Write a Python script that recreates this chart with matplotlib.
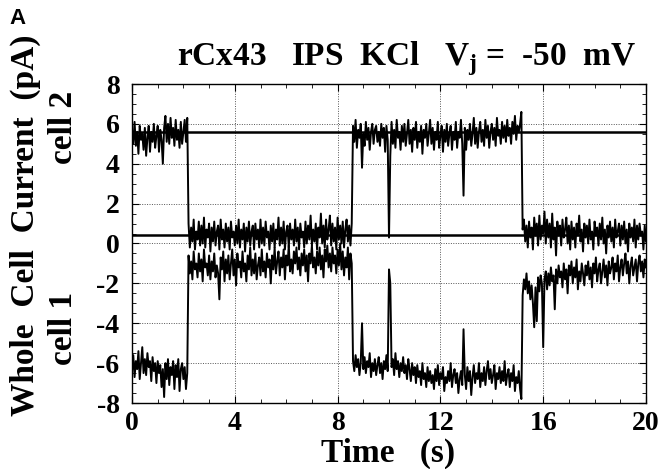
#!/usr/bin/env python3

import numpy as np
import matplotlib.pyplot as plt

# sampling grid of the traces, seconds
time_step = 0.05
n_samples = 401

# cell 2 current (pA), read segment by segment (10 samples = 0.5 s per row)
cell2_a = [5.7, 5.0, 6.1, 4.9, 5.6, 4.5, 5.9, 5.2, 5.5, 4.7,
           5.8, 4.4, 5.3, 5.9, 4.6, 5.6, 5.1, 6.0, 4.8, 5.4,
           5.9, 4.6, 5.7, 5.2, 4.0, 5.8, 6.4, 5.1, 6.0, 5.0,
           6.3, 5.3, 5.8, 4.9, 6.2, 5.2, 5.7, 4.8, 6.1, 5.0,
           5.6, 6.2, 5.1, 6.3]
cell2_b = [1.0, -0.2, 0.8, 0.1, 1.2, -0.3, 0.6, 0.2, 1.1, -0.1,
           0.9, 0.0, 1.3, -0.2, 0.7, 0.3, 1.0, -0.4, 0.8, 0.1,
           1.1, -0.1, 0.6, 0.9, -0.3, 1.2, 0.2, 0.7, -0.2, 1.0,
           0.1, 0.8, -0.3, 1.1, 0.3, 0.6, -0.1, 0.9, 0.0, 1.2,
           -0.2, 0.7, 0.2, 1.0, -0.4, 0.8, 0.1, 1.1, -0.1, 0.6,
           0.9, -0.3, 1.0, 0.2, 0.7, -0.2, 1.2, 0.0, 0.8, -0.1,
           1.1, 0.3, 0.6, -0.3, 0.9, 0.1, 1.0, -0.2, 0.7, 0.2,
           1.3, -0.1, 0.8, 0.0, 1.1, -0.3, 0.6, 0.9, -0.2, 1.0,
           0.2, 0.7, -0.1, 1.2, 0.1, 0.8, -0.3, 1.0, 0.3, 0.6,
           -0.2, 1.1, 0.0, 0.9, 0.2, 1.4, -0.1, 0.7, 0.1, 1.0,
           -0.3, 0.8, 0.3, 1.5, 0.0, 0.9, -0.2, 1.2, 0.2, 0.7,
           1.4, -0.1, 1.0, 0.1, 0.8, -0.3, 1.3, 0.2, 0.9, 0.0,
           1.1, -0.2, 0.7, 1.2, 0.1, 0.9, -0.1, 1.0]
cell2_c = [5.9, 5.1, 6.2, 4.8, 5.7, 5.3, 6.0, 3.8, 5.5, 4.9,
           6.1, 5.2, 5.8, 4.7, 5.6, 6.0, 5.0, 5.7, 5.9, 5.1,
           5.6, 4.9, 6.0, 5.3, 5.8, 4.6, 5.9, 5.2, 0.3, 4.4,
           6.1, 5.0, 5.7, 4.8, 6.2, 5.3, 5.6, 4.7, 5.9, 5.1,
           6.0, 4.9, 5.5, 6.2, 5.0, 5.7, 4.6, 5.8, 5.2, 6.1,
           4.8, 5.6, 5.1, 5.9, 4.5, 5.7, 5.3, 6.0, 4.9, 5.5,
           6.2, 5.0, 5.8, 4.7, 5.6, 5.2, 6.1, 4.8, 5.4, 5.9,
           4.6, 5.7, 5.1, 6.0, 4.9, 5.5, 5.9, 4.7, 5.6, 5.2,
           6.1, 4.8, 5.6, 5.3, 6.2, 5.0, 2.4, 5.8, 4.7, 5.7,
           5.2, 6.0, 4.9, 5.5, 6.3, 5.0, 5.8, 4.8, 5.6, 6.1,
           5.1, 5.7, 4.9, 6.2, 5.3, 5.9, 4.8, 5.6, 6.0, 5.2,
           5.8, 4.9, 6.3, 5.4, 5.7, 5.0, 6.1, 5.3, 5.9, 5.1,
           6.2, 5.4, 5.8, 5.0, 6.1, 5.5, 6.4, 5.2, 5.9, 5.6,
           6.0, 6.6]
cell2_d = [0.7, 1.2, 0.1, 0.9, -0.2, 1.1, 0.3, 0.8, -0.3, 1.3,
           0.4, 1.0, -0.1, 1.4, 0.2, 0.9, 0.5, 1.6, 0.0, 1.2,
           0.3, 1.0, -0.2, 1.5, 0.2, 0.8, -0.6, 1.1, 0.4, 0.9,
           -0.1, 1.2, 0.3, 0.7, 1.3, 0.0, 0.9, -0.3, 1.1, 0.2,
           0.8, -0.2, 1.0, 0.4, 1.4, 0.1, 0.7, -0.4, 1.0, 0.3,
           0.9, 0.0, 1.2, 0.2, 0.6, -0.3, 1.1, 0.4, 0.8, -0.1,
           1.0, 0.2, 1.3, 0.0, 0.7, -0.5, 0.9, 0.3, 1.1, 0.1,
           0.8, -0.2, 1.2, 0.3, 0.6, 1.0, -0.1, 0.9, 0.2, 1.1,
           0.0, 0.7, -0.4, 1.0, 0.3, 0.8, 0.1, 1.2, -0.2, 0.9,
           0.2, 1.0, 0.4, 0.6, -0.3, 0.9, 0.1]

# cell 1 current (pA)
cell1_a = [-6.4, -5.6, -6.7, -5.9, -6.3, -5.4, -6.8, -6.0, -5.2, -6.5,
           -5.8, -6.6, -5.5, -6.2, -5.9, -6.9, -5.7, -6.4, -6.0, -7.0,
           -5.9, -6.5, -6.1, -7.2, -6.3, -7.7, -6.0, -6.8, -5.8, -7.1,
           -6.2, -6.6, -5.9, -7.3, -6.1, -6.7, -5.8, -7.4, -6.3, -6.0,
           -6.8, -6.2, -7.3, -6.5]
cell1_b = [-0.6, -1.5, -0.9, -1.8, -0.4, -1.3, -1.0, -1.7, -0.5, -1.4,
           -0.8, -1.9, -0.3, -1.2, -1.0, -1.6, -0.6, -1.8, -0.9, -1.4,
           -0.5, -1.7, -1.1, -1.5, -2.8, -0.7, -1.3, -0.4, -1.9, -0.8,
           -1.5, -0.6, -1.8, -1.0, -0.3, -1.6, -0.8, -2.1, -0.5, -1.2,
           -0.9, -1.7, -0.4, -1.4, -1.0, -1.9, -0.6, -1.3, -0.2, -1.6,
           -0.8, -1.5, -0.5, -1.8, -1.1, -0.7, -1.6, -0.3, -1.4, -0.9,
           -1.7, -0.5, -1.2, -0.8, -2.0, -0.6, -1.3, -0.2, -1.5, -0.9,
           -0.4, -1.6, -0.7, -1.2, -0.3, -1.8, -0.6, -1.1, -0.1, -1.4,
           -0.8, -1.5, -0.4, -1.0, -0.2, -1.3, -0.7, -1.6, -0.5, -1.1,
           -0.3, -1.4, -0.6, -1.9, -0.5, -1.0, -0.1, -1.2, -0.7, -1.5,
           -0.4, -1.1, -0.2, -1.3, -0.6, -1.7, -0.3, -0.9, -0.1, -1.2,
           -0.5, -1.4, -0.2, -1.0, -0.6, -1.5, -0.3, -1.1, 0.0, -1.3,
           -0.4, -1.6, -0.7, -1.2, -0.2, -1.8, -0.5, -1.0]
cell1_c = [-5.9, -6.4, -5.6, -6.2, -5.8, -6.6, -6.0, -4.0, -6.3, -5.7,
           -6.5, -5.9, -6.2, -5.5, -6.7, -6.0, -6.4, -5.8, -6.6, -6.1,
           -5.7, -6.5, -6.0, -6.8, -5.9, -6.3, -5.6, -6.4, -1.3, -2.0,
           -6.2, -5.8, -6.6, -5.5, -6.3, -5.9, -6.7, -6.0, -6.4, -5.7,
           -6.5, -6.1, -6.8, -5.8, -6.3, -6.9, -6.0, -6.6, -6.2, -7.0,
           -6.1, -6.7, -6.4, -7.1, -6.0, -6.8, -6.5, -7.2, -6.2, -6.9,
           -6.4, -7.0, -6.6, -7.3, -6.3, -6.9, -6.1, -7.1, -6.5, -6.8,
           -6.2, -7.4, -6.7, -7.0, -6.4, -6.9, -6.0, -7.2, -6.6, -6.3,
           -7.0, -6.5, -7.5, -6.8, -6.4, -7.1, -4.3, -6.6, -7.3, -6.2,
           -6.9, -6.4, -7.6, -6.7, -6.1, -7.0, -6.5, -6.8, -6.0, -7.2,
           -6.5, -6.9, -6.2, -7.1, -6.4, -5.9, -6.8, -6.3, -7.0, -6.6,
           -6.1, -7.3, -6.5, -6.8, -6.2, -7.0, -6.4, -6.9, -5.9, -7.1,
           -6.6, -6.3, -7.2, -6.5, -6.9, -6.1, -7.4, -6.7, -7.0, -6.4,
           -7.3, -7.8]
cell1_d = [-2.6, -1.8, -2.3, -1.5, -2.5, -1.9, -2.8, -2.1, -3.0, -4.2,
           -2.2, -3.9, -1.7, -2.4, -1.6, -2.0, -5.2, -1.8, -1.4, -2.3,
           -1.5, -2.1, -1.2, -1.9, -1.6, -3.3, -1.3, -2.0, -1.1, -1.7,
           -1.4, -2.2, -1.0, -1.8, -1.3, -2.5, -1.1, -1.6, -0.9, -2.0,
           -1.2, -1.7, -0.8, -2.3, -1.4, -1.9, -1.0, -1.5, -2.1, -1.1,
           -1.6, -0.9, -1.8, -1.2, -2.2, -1.0, -1.5, -0.7, -1.9, -1.3,
           -1.0, -2.0, -1.4, -0.8, -1.7, -1.1, -2.1, -0.9, -1.5, -1.2,
           -0.7, -1.8, -1.0, -1.4, -0.6, -1.9, -1.2, -0.8, -1.6, -1.0,
           -0.5, -1.5, -0.9, -2.0, -1.1, -0.7, -1.6, -1.2, -0.8, -1.9,
           -1.0, -0.6, -1.4, -0.9, -1.7, -0.8, -1.2]

# idealised open/closed current levels (pA)
levels = [5.6, 0.45]

x_ticks = [0, 4, 8, 12, 16, 20]
y_ticks = [-8, -6, -4, -2, 0, 2, 4, 6, 8]

SERIF = 'Liberation Serif'
W, H = 660, 469


def main():
    plt.rcParams['mathtext.fontset'] = 'custom'
    plt.rcParams['mathtext.rm'] = 'Liberation Serif:bold'
    plt.rcParams['mathtext.bf'] = 'Liberation Serif:bold'
    plt.rcParams['axes.unicode_minus'] = False

    t = np.arange(n_samples) * time_step
    cell2 = cell2_a + cell2_b + cell2_c + cell2_d
    cell1 = cell1_a + cell1_b + cell1_c + cell1_d

    fig = plt.figure(figsize=(W / 100, H / 100), dpi=100)
    ax = fig.add_axes([132 / W, 1 - 403 / H, 514 / W, 319 / H])

    for lvl in levels:
        ax.axhline(lvl, color='black', lw=1.8, zorder=3)
    ax.plot(t, cell2, color='black', lw=1.4, zorder=4)
    ax.plot(t, cell1, color='black', lw=1.4, zorder=4)

    ax.set_xlim(0, 20)
    ax.set_ylim(-8, 8)
    ax.set_xticks(x_ticks)
    ax.set_yticks(y_ticks)
    ax.set_xticks(np.arange(0, 21, 1), minor=True)
    ax.set_yticks(np.arange(-8, 8.5, 0.5), minor=True)
    ax.tick_params(which='both', direction='in', top=True, right=True)
    ax.tick_params(which='major', length=5, width=0.8)
    ax.tick_params(which='minor', length=3, width=0.6)
    ax.tick_params(axis='y', pad=9)
    ax.tick_params(axis='x', pad=6)
    for lab in ax.get_xticklabels() + ax.get_yticklabels():
        lab.set_fontfamily(SERIF)
        lab.set_fontweight('bold')
        lab.set_fontsize(20)
    ax.grid(True, which='major', color='#555555', ls=(0, (1, 1.5)), lw=0.7)
    for s in ax.spines.values():
        s.set_linewidth(1.0)

    txt = dict(family=SERIF, weight='bold', fontsize=24)
    fig.text(388 / W, 1 - 462 / H, 'Time   (s)', ha='center', va='baseline',
             **txt)
    fig.text(406 / W, 1 - 65 / H,
             r'rCx43   IPS  KCl   V$_{\mathbf{j}}$ =  -50  mV',
             ha='center', va='baseline', **txt)
    fig.text(25 / W, 1 - 225 / H, 'Whole  Cell  Current  (pA)',
             rotation=90, ha='center', va='center', **txt)
    fig.text(63 / W, 1 - 328 / H, 'cell 1', rotation=90, ha='center',
             va='center', **txt)
    fig.text(63 / W, 1 - 127 / H, 'cell 2', rotation=90, ha='center',
             va='center', **txt)
    fig.text(9 / W, 1 - 19 / H, 'A', family='Liberation Sans', weight='bold',
             fontsize=16, ha='left', va='center')

    fig.savefig('out.png', dpi=100)


if __name__ == "__main__":
    main()
